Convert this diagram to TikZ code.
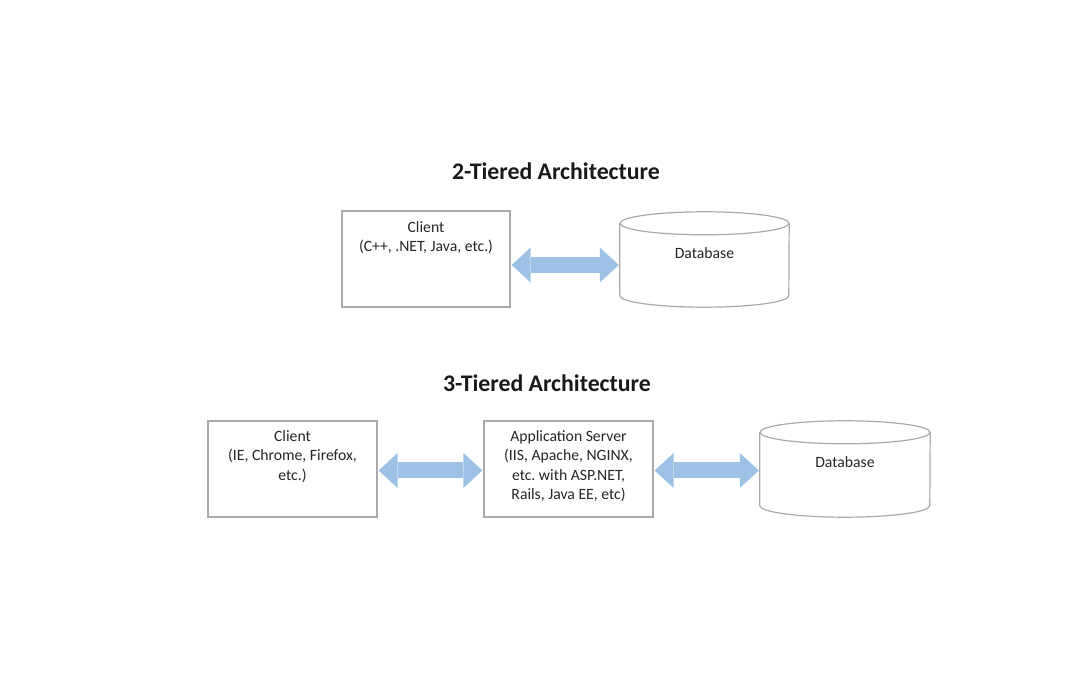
\documentclass[tikz,border=0pt]{standalone}
\usepackage{fontspec}
\setmainfont{Carlito}
\frenchspacing
\usetikzlibrary{arrows.meta}
\definecolor{arrowblue}{RGB}{157,194,229}
\definecolor{boxgray}{RGB}{170,170,170}
\definecolor{txt}{RGB}{38,38,38}
\tikzset{
  box/.style={draw=boxgray, line width=1.2pt, minimum width=168pt, minimum height=96pt, inner sep=0pt},
  dbbox/.style={minimum width=169pt, minimum height=95pt, inner sep=0pt},
  dbline/.style={draw=boxgray, line width=1.2pt},
  boxtext/.style={align=center, inner sep=0pt, text=txt, font=\fontsize{15.7}{19.5}\selectfont},
  title/.style={inner sep=0pt, text=black!90, font=\fontsize{23.8}{28}\selectfont\bfseries},
  dblarrow/.style={draw=arrowblue, line width=16pt,
    {Triangle[length=19pt,width=35pt,line width=0pt]}-{Triangle[length=19pt,width=35pt,line width=0pt]},
    shorten <=1pt, shorten >=1pt}
}
\begin{document}
\begin{tikzpicture}[x=1pt,y=1pt]
\path[fill=white,use as bounding box] (0,0) rectangle (1080,688);

% 2-tier
\node[title] (t1) at (556,517) {2-Tiered Architecture};
\node[box] (c1) at (426,429) {};
\node[boxtext] (c1t) at (426,450.5) {Client\\(C++, .NET, Java, etc.)};
\node[dbbox] (db1) at (704.5,428.5) {};
\draw[dbline] ([yshift=-11.5pt]db1.north) ellipse [x radius=84.5pt, y radius=11.5pt];
\draw[dbline] ([yshift=-11.5pt]db1.north west) -- ([yshift=11.5pt]db1.south west)
  arc[start angle=180, end angle=360, x radius=84.5pt, y radius=11.5pt]
  -- ([yshift=-11.5pt]db1.north east);
\node[boxtext] (db1t) at (704.5,435) {Database};
\draw[dblarrow] (c1.east |- 0,423) -- (db1.west |- 0,423);

% 3-tier
\node[title] (t2) at (547,305) {3-Tiered Architecture};
\node[box, minimum width=169pt] (c2) at (292.5,219) {};
\node[boxtext] (c2t) at (292.5,231.5) {Client\\(IE, Chrome, Firefox,\\etc.)};
\node[box, minimum width=169pt] (app) at (568.5,219) {};
\node[boxtext] (appt) at (568.5,222) {Application Server\\(IIS, Apache, NGINX,\\etc. with ASP.NET,\\Rails, Java EE, etc)};
\node[dbbox, minimum width=170pt, minimum height=96pt] (db2) at (845,219) {};
\draw[dbline] ([yshift=-11.5pt]db2.north) ellipse [x radius=85pt, y radius=11.5pt];
\draw[dbline] ([yshift=-11.5pt]db2.north west) -- ([yshift=11.5pt]db2.south west)
  arc[start angle=180, end angle=360, x radius=85pt, y radius=11.5pt]
  -- ([yshift=-11.5pt]db2.north east);
\node[boxtext] (db2t) at (845,226) {Database};
\draw[dblarrow] (c2.east |- 0,217.5) -- (app.west |- 0,217.5);
\draw[dblarrow] (app.east |- 0,217.5) -- (db2.west |- 0,217.5);
\end{tikzpicture}
\end{document}
